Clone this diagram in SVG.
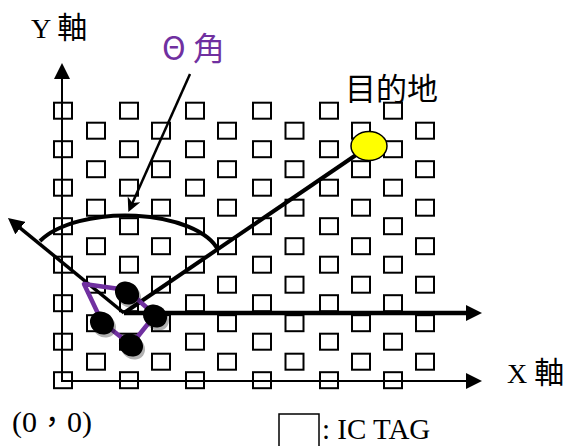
<svg xmlns="http://www.w3.org/2000/svg" xmlns:xlink="http://www.w3.org/1999/xlink" width="571" height="446" viewBox="0 0 571 446">
<style>
.tag{fill:none;stroke:#000;stroke-width:2}
.ln{fill:none;stroke:#000;stroke-linecap:butt}
.lat{font-family:"Liberation Serif","Noto Sans CJK TC",serif;fill:#000}
.cjk{font-family:"Noto Sans CJK TC",sans-serif}
.whl{fill:#000}
.shd{fill:#000;opacity:0.3}
</style>
<defs>
<rect id="t" class="tag" width="18" height="16"/>
<marker id="ah" markerUnits="userSpaceOnUse" markerWidth="16" markerHeight="16" refX="10" refY="8" orient="auto" viewBox="0 0 16 16">
<path d="M0,0 L16,8 L0,16 z" fill="#000"/>
</marker>
<marker id="ahs" markerUnits="userSpaceOnUse" markerWidth="14" markerHeight="14" refX="9" refY="7" orient="auto" viewBox="0 0 14 14">
<path d="M0,0 L14,7 L0,14 L4,7 z" fill="#000"/>
</marker>
</defs>
<rect width="571" height="446" fill="#fff"/>
<g id="tags">
<use href="#t" x="54" y="102.7"/><use href="#t" x="54" y="141.2"/><use href="#t" x="54" y="179.7"/><use href="#t" x="54" y="218.2"/><use href="#t" x="54" y="256.7"/><use href="#t" x="54" y="295.2"/><use href="#t" x="54" y="333.7"/><use href="#t" x="54" y="372.2"/>
<use href="#t" x="120" y="102.7"/><use href="#t" x="120" y="141.2"/><use href="#t" x="120" y="179.7"/><use href="#t" x="120" y="218.2"/><use href="#t" x="120" y="256.7"/><use href="#t" x="120" y="295.2"/><use href="#t" x="120" y="333.7"/><use href="#t" x="120" y="372.2"/>
<use href="#t" x="186" y="102.7"/><use href="#t" x="186" y="141.2"/><use href="#t" x="186" y="179.7"/><use href="#t" x="186" y="218.2"/><use href="#t" x="186" y="256.7"/><use href="#t" x="186" y="295.2"/><use href="#t" x="186" y="333.7"/><use href="#t" x="186" y="372.2"/>
<use href="#t" x="253" y="102.7"/><use href="#t" x="253" y="141.2"/><use href="#t" x="253" y="179.7"/><use href="#t" x="253" y="218.2"/><use href="#t" x="253" y="256.7"/><use href="#t" x="253" y="295.2"/><use href="#t" x="253" y="333.7"/><use href="#t" x="253" y="372.2"/>
<use href="#t" x="320" y="102.7"/><use href="#t" x="320" y="141.2"/><use href="#t" x="320" y="179.7"/><use href="#t" x="320" y="218.2"/><use href="#t" x="320" y="256.7"/><use href="#t" x="320" y="295.2"/><use href="#t" x="320" y="333.7"/><use href="#t" x="320" y="372.2"/>
<use href="#t" x="384" y="102.7"/><use href="#t" x="384" y="141.2"/><use href="#t" x="384" y="179.7"/><use href="#t" x="384" y="218.2"/><use href="#t" x="384" y="256.7"/><use href="#t" x="384" y="295.2"/><use href="#t" x="384" y="333.7"/><use href="#t" x="384" y="372.2"/>
<use href="#t" x="87" y="122.7"/><use href="#t" x="87" y="161.2"/><use href="#t" x="87" y="199.7"/><use href="#t" x="87" y="238.2"/><use href="#t" x="87" y="276.7"/><use href="#t" x="87" y="315.2"/><use href="#t" x="87" y="353.7"/>
<use href="#t" x="152" y="122.7"/><use href="#t" x="152" y="161.2"/><use href="#t" x="152" y="199.7"/><use href="#t" x="152" y="238.2"/><use href="#t" x="152" y="276.7"/><use href="#t" x="152" y="315.2"/><use href="#t" x="152" y="353.7"/>
<use href="#t" x="218" y="122.7"/><use href="#t" x="218" y="161.2"/><use href="#t" x="218" y="199.7"/><use href="#t" x="218" y="238.2"/><use href="#t" x="218" y="276.7"/><use href="#t" x="218" y="315.2"/><use href="#t" x="218" y="353.7"/>
<use href="#t" x="285.5" y="122.7"/><use href="#t" x="285.5" y="161.2"/><use href="#t" x="285.5" y="199.7"/><use href="#t" x="285.5" y="238.2"/><use href="#t" x="285.5" y="276.7"/><use href="#t" x="285.5" y="315.2"/><use href="#t" x="285.5" y="353.7"/>
<use href="#t" x="352" y="122.7"/><use href="#t" x="352" y="161.2"/><use href="#t" x="352" y="199.7"/><use href="#t" x="352" y="238.2"/><use href="#t" x="352" y="276.7"/><use href="#t" x="352" y="315.2"/><use href="#t" x="352" y="353.7"/>
<use href="#t" x="416" y="122.7"/><use href="#t" x="416" y="161.2"/><use href="#t" x="416" y="199.7"/><use href="#t" x="416" y="238.2"/><use href="#t" x="416" y="276.7"/><use href="#t" x="416" y="315.2"/><use href="#t" x="416" y="353.7"/>
</g>
<g id="connectors">
<path class="ln" d="M62,382 L62,69" stroke-width="2" marker-end="url(#ah)"/>
<path class="ln" d="M61,381 L476,381" stroke-width="2" marker-end="url(#ah)"/>
<path class="ln" d="M124,313 L476,313" stroke-width="4.5" marker-end="url(#ah)"/>
<path class="ln" d="M124,313 L12.6,221.8" stroke-width="3.5" marker-end="url(#ah)"/>
<path class="ln" d="M124,313 L356,155" stroke-width="4"/>
<path class="ln" d="M40,241 A95,45 0 0 1 218,250" stroke-width="4"/>
<path class="ln" d="M190,74 L130.4,207.5" stroke-width="2.5" marker-end="url(#ahs)"/>
</g>
<g id="robot">
<polygon points="84,284 127,290 155,315 131,345 102,322" fill="none" stroke="#7030A0" stroke-width="4.5" stroke-linejoin="round"/>
<ellipse class="shd" cx="129" cy="296" rx="12.5" ry="11" transform="rotate(35 129 296)"/>
<ellipse class="shd" cx="157" cy="319" rx="12.5" ry="11" transform="rotate(35 157 319)"/>
<ellipse class="shd" cx="104" cy="326" rx="12.5" ry="11" transform="rotate(35 104 326)"/>
<ellipse class="shd" cx="133" cy="348" rx="12.5" ry="11" transform="rotate(35 133 348)"/>
<ellipse class="whl" cx="127" cy="293" rx="12.5" ry="11" transform="rotate(35 127 293)"/>
<ellipse class="whl" cx="155" cy="316" rx="12.5" ry="11" transform="rotate(35 155 316)"/>
<ellipse class="whl" cx="102" cy="323" rx="12.5" ry="11" transform="rotate(35 102 323)"/>
<ellipse class="whl" cx="131" cy="345" rx="12.5" ry="11" transform="rotate(35 131 345)"/>
</g>
<g id="destination">
<ellipse cx="369" cy="146" rx="18" ry="14.5" fill="#FFFF00" stroke="#000" stroke-width="1.5"/>
<text class="cjk" x="345" y="100" font-size="31" fill="#000">目的地</text>
</g>
<g id="y-label"><text class="lat" x="31" y="38" font-size="28">Y <tspan class="cjk" font-size="30">軸</tspan></text></g>
<g id="x-label"><text class="lat" x="507" y="383" font-size="28">X <tspan class="cjk" font-size="30">軸</tspan></text></g>
<g id="theta-label"><text class="cjk" x="162" y="60" font-size="32" fill="#7030A0">Θ 角</text></g>
<g id="origin-label"><text class="lat" x="12" y="432" font-size="30">(0<tspan class="cjk">，</tspan>0)</text></g>
<g id="legend">
<rect x="279" y="414" width="40" height="45" fill="none" stroke="#000" stroke-width="1.5"/>
<text class="lat" x="322" y="439" font-size="29">: IC TAG</text>
</g>
</svg>
